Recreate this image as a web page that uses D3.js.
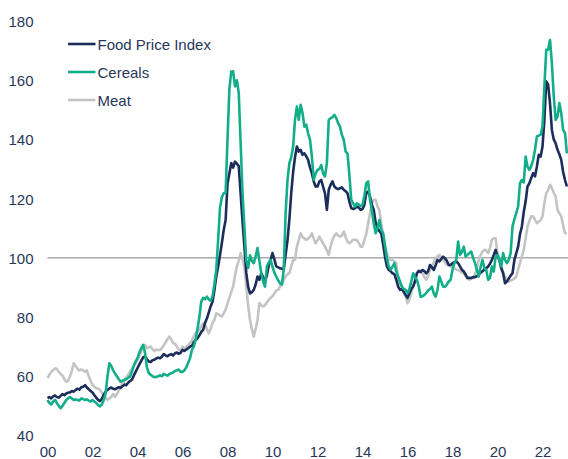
<!DOCTYPE html>
<html>
<head>
<meta charset="utf-8">
<script src="https://cdn.jsdelivr.net/npm/d3@7"></script>
<style>
  html, body { margin: 0; padding: 0; background: #ffffff; }
  svg { display: block; }
  text { font-family: "Liberation Sans", Arial, sans-serif; }
</style>
</head>
<body>
<script>
// ---- Data (monthly, Jan 2000 - Feb 2023) ----
const startYear = 2000;
const seriesNames = ["Food Price Index", "Cereals", "Meat"];

const foodPriceIndex = [
  52.6, 53, 52.5, 53.2, 53.5, 53, 52.8, 53.4, 54, 53.6, 54.2, 54.5,
  54.5, 55, 54.8, 55.4, 55.8, 55.5, 56.3, 56.5, 57, 56.2, 55.6, 55,
  54.5, 53.6, 52.8, 52, 51.6, 52.4, 53.8, 54.8, 55.4, 55.9, 56.2, 55.8,
  55.6, 56, 56.3, 56.1, 56.6, 57.2, 57, 57.8, 58.4, 58.8, 60.2, 61.5,
  62.8, 64, 65.2, 66.4, 66.7, 65.8, 65, 64.8, 65.4, 65.6, 66, 66.3,
  66.1, 66.6, 67.5, 67, 66.8, 67.2, 67.5, 67, 67.8, 68, 67.6, 67.9,
  68.9, 68.6, 69, 69.5, 70, 70.3, 71.5, 72.3, 72.8, 73.8, 75, 75.7,
  78, 79.5, 81.5, 83.6, 85.2, 89, 93.7, 97, 101, 105, 109.5, 112.8,
  125, 128.5, 132, 130.5, 132.5, 131.8, 131, 121.8, 112.5, 103.8, 95, 90.3,
  88, 88.4, 89.2, 91, 93.7, 92.6, 94.8, 93.5, 92, 94, 97.5, 99.3,
  101.6, 99.5, 97.1, 96.8, 96.5, 96.3, 96.2, 101, 106, 113, 122, 129,
  134, 137.6, 135.9, 136.5, 134.8, 135.3, 134.3, 133.1, 130.5, 128.6, 125.8, 124.1,
  124.1, 125.8, 126.3, 124, 121.8, 116.2, 123, 124.7, 125.8, 124.1, 123.5, 123.2,
  123.5, 123.8, 123, 122.5, 121.8, 119, 116.8, 116.5, 116.8, 117.3, 117, 116.2,
  116.5, 117.9, 122, 122.4, 120.7, 118, 116.2, 112, 110, 109, 108.3, 104.5,
  100.4, 97.1, 95.9, 95.5, 94.8, 94.5, 92.6, 90.3, 89.2, 89.5, 88.5, 87.5,
  86.5, 88, 89.5, 90.3, 92, 94.8, 95.5, 95.2, 95.9, 95.5, 94.8, 95.5,
  97.6, 96.8, 95.9, 97.5, 99.3, 98.8, 99.6, 100.4, 99.9, 99, 97.6, 97.6,
  98.2, 98.5, 98.8, 98.2, 97.1, 96, 95.4, 94.3, 93.2, 93.3, 93.2, 93.5,
  93.5, 93.8, 94.3, 95, 95.5, 96, 96.5, 97.1, 98, 99.3, 101, 102.7,
  100.5, 99.3, 96.5, 94.8, 91.4, 92, 93, 94, 94.8, 99.3, 101.5, 103.8,
  108, 110.6, 115.5, 119, 124.1, 125.2, 127, 128.6, 127.5, 130.8, 134.8, 134.2,
  137.6, 146.6, 159.6, 158.5, 152.3, 143.2, 140, 138.7, 136.5, 135, 133.1, 129,
  126.3, 124.1
];

const cereals = [
  52, 51, 50.5, 51.5, 52, 51, 50, 49.2, 50, 51, 52, 52.6,
  53, 52.5, 52, 52.2, 52, 51.8, 52.5, 52.3, 52, 52.2, 51.8, 51.5,
  52, 51.5, 51, 50.3, 49.8, 50.5, 52, 54.3, 60, 64.4, 63.5, 62,
  61, 60, 59, 58.2, 58.5, 58.8, 59, 59.5, 59.9, 61.5, 63.5, 65,
  66.1, 68, 69.5, 70.6, 68, 63, 61.1, 60.5, 60, 59.7, 59.8, 60,
  60.3, 60, 60.8, 60.5, 60.2, 60.8, 61, 61.3, 61.8, 62, 62.3, 61.5,
  61.5, 62, 63, 64.5, 66.1, 68.9, 70, 72.3, 76, 80, 85.2, 86.5,
  86, 86.9, 86, 85.5, 87, 91, 96, 106, 117, 120.5, 121.8, 122,
  140, 157, 162.9, 163, 157.9, 160, 155.6, 138.8, 122, 110.6, 99.3, 96.6,
  100.9, 99, 98.2, 100.5, 103.3, 99, 94.8, 92, 90.3, 97.1, 98.5, 99.3,
  97, 95, 93.7, 92.5, 91.4, 91, 96, 115, 126.3, 132, 134, 137.6,
  146.6, 151.1, 146.6, 151.7, 149, 144.3, 145, 142, 139.9, 134.2, 126.3, 128.5,
  129.7, 130, 131.3, 128.5, 127.5, 132, 146.6, 147.2, 147.5, 148.3, 147.2, 145.5,
  144.3, 141.5, 139.9, 135.9, 135.3, 128, 119.6, 118.5, 117.3, 118.4, 118, 117.5,
  117.9, 121, 125.2, 125.8, 119.6, 116, 111.7, 108.3, 110, 112.8, 109.4, 108.3,
  104, 100, 97.1, 96, 97, 98.2, 95.5, 93.7, 92, 90.3, 89.5, 89.2,
  88.1, 89.5, 92, 94.8, 93.5, 92.6, 90.3, 86.9, 87, 87.5, 88.1, 89,
  89.5, 90.3, 88, 86.9, 89.2, 93.7, 92, 90.3, 90.3, 91, 92, 92.6,
  96, 98.2, 99.3, 105.5, 101, 102, 103.8, 100.4, 101, 101.6, 102.1, 100,
  98.2, 96, 93.7, 97, 99.3, 96.5, 95.9, 92.6, 93.2, 97.1, 95.4, 100.4,
  101, 99.3, 97.1, 101.6, 99.3, 98.2, 99.3, 101.6, 110.6, 113, 115.1, 117.3,
  125.2, 126.3, 125.5, 134.2, 130.8, 129.7, 131, 133.1, 136.5, 141, 141.3, 141.6,
  144.3, 157.9, 170.3, 170.3, 173.6, 165.8, 154.5, 146.6, 147.7, 152.3, 148.8, 143.2,
  142.1, 135.3
];

const meat = [
  59.4, 60.5, 61.5, 62, 62.7, 62.5, 61.5, 60.8, 60.3, 59, 58.2, 58.5,
  60, 62, 64.4, 63.5, 62.5, 62, 62.3, 62, 61.5, 62, 60, 58.5,
  57.1, 56.5, 56, 55.8, 55.4, 54.5, 53.5, 52.8, 52, 52.5, 53.1, 54,
  53.1, 54, 55.2, 56.5, 57.6, 58.5, 59.5, 60.5, 61.6, 62.5, 63.5, 64.5,
  65.5, 67, 68.5, 70, 70.6, 69.5, 69.8, 70, 69.2, 68.5, 69, 68.9,
  68.9, 69.5, 70.5, 71.5, 72.5, 73.4, 72.5, 71.2, 71, 70, 69, 68.5,
  70, 69.5, 70, 70.5, 71.3, 72, 73.5, 74.6, 75.2, 75.7, 77, 77.9,
  77.5, 76, 74.5, 76, 78, 79, 81.3, 81, 80.5, 80.2, 81.3, 82.5,
  84.7, 86.5, 88.5, 90.3, 94, 97.1, 99, 101.6, 99.5, 97.1, 90.3, 84,
  79, 76, 73.4, 76, 79, 84.7, 84, 83.6, 84, 85, 85.8, 86.5,
  87, 88, 89, 89.2, 90.3, 91, 92.6, 93.7, 94.5, 94.8, 97.1, 99.3,
  99.3, 103.8, 106, 108.3, 107.2, 106.5, 106.1, 106.5, 107.2, 108.3, 106.5, 104.9,
  106, 107.2, 106, 104.9, 103.8, 102.5, 101, 104, 106.1, 107.5, 108.3, 107.5,
  107.2, 107.5, 108.9, 107, 105.5, 104.9, 105.5, 106.1, 106.1, 106, 105, 103.8,
  103.8, 106.1, 108, 111.7, 115, 118.5, 119.6, 119.6, 117.3, 116.2, 111.7, 108,
  103.8, 101.6, 99.3, 99.3, 99.3, 98.8, 98.2, 92.6, 91, 90.3, 88.1, 87,
  84.7, 86, 88.1, 90.5, 92.6, 95, 95.9, 95.5, 94.8, 93.5, 92.6, 94,
  95.9, 97, 98.5, 99.9, 100.5, 101, 100, 99.3, 98.5, 97.6, 97.5, 97.1,
  97.1, 96.5, 96, 95.9, 95.5, 95, 94.8, 94, 93, 92.6, 93, 93.2,
  94.5, 96.5, 99.3, 101, 102.1, 102.7, 102.5, 101.6, 103.3, 106.1, 106.6, 106.6,
  101.6, 99.5, 97.1, 95, 93.7, 93, 92, 92.3, 92.6, 93, 93.7, 96,
  98.2, 100.5, 102.7, 106.5, 110.6, 112.5, 114, 114, 112.8, 111.7, 112.3, 112.8,
  114, 118.5, 121.8, 122.9, 124.7, 123.5, 122, 120.7, 116.2, 115, 114, 111,
  108.3, 108.3
];

const xTickYears = [2000, 2002, 2004, 2006, 2008, 2010, 2012, 2014, 2016, 2018, 2020, 2022];
const yTickValues = [40, 60, 80, 100, 120, 140, 160, 180];
const referenceValue = 100;

// ---- Layout ----
const W = 568, H = 459;
const colors = { food: "#1b2d5b", cereals: "#12ae8a", meat: "#c4c4c4", text: "#27375b", ref: "#7f7f7f" };

const svg = d3.select("body").append("svg").attr("width", W).attr("height", H);

const x = d3.scaleLinear().domain([2000, 2023.1]).range([47.5, 567.25]);
const y = d3.scaleLinear().domain([40, 180]).range([435.5, 21]);

// reference line at 100
svg.append("line")
  .attr("x1", x(2000)).attr("x2", W)
  .attr("y1", y(referenceValue)).attr("y2", y(referenceValue))
  .attr("stroke", colors.ref).attr("stroke-width", 1);

// y axis labels
const yAxis = d3.axisLeft(y).tickValues(yTickValues).tickSize(0).tickPadding(0).tickFormat(d3.format("d"));
const gy = svg.append("g").attr("transform", "translate(33.5,0)").call(yAxis);
gy.select(".domain").remove();
gy.selectAll("text").attr("font-size", "15px").attr("fill", colors.text)
  .attr("font-family", "Liberation Sans, Arial, sans-serif").attr("dy", "0.36em");

// x axis labels
const xAxis = d3.axisBottom(x).tickValues(xTickYears).tickSize(0).tickPadding(0)
  .tickFormat(d => String(d % 100).padStart(2, "0"));
const gx = svg.append("g").attr("transform", "translate(0,446)").call(xAxis);
gx.select(".domain").remove();
gx.selectAll("text").attr("font-size", "15px").attr("fill", colors.text)
  .attr("font-family", "Liberation Sans, Arial, sans-serif").attr("dy", "0.72em");

// lines
const line = d3.line().x((d, i) => x(startYear + i / 12)).y(d => y(d));
const series = [
  { name: seriesNames[0], values: foodPriceIndex, color: colors.food },
  { name: seriesNames[1], values: cereals, color: colors.cereals },
  { name: seriesNames[2], values: meat, color: colors.meat }
];
const drawOrder = [2, 0, 1];
drawOrder.forEach(k => {
  svg.append("path")
    .datum(series[k].values)
    .attr("d", line)
    .attr("fill", "none")
    .attr("stroke", series[k].color)
    .attr("stroke-width", 2.6)
    .attr("stroke-linejoin", "round");
});

// legend
const legend = svg.append("g");
series.forEach((s, i) => {
  const ly = 44 + i * 28;
  legend.append("line").attr("x1", 68).attr("x2", 95.5).attr("y1", ly).attr("y2", ly)
    .attr("stroke", s.color).attr("stroke-width", 2.6);
  legend.append("text").attr("x", 97.5).attr("y", ly + 5.5)
    .attr("font-size", "15px").attr("fill", colors.text).text(s.name);
});
</script>
</body>
</html>
